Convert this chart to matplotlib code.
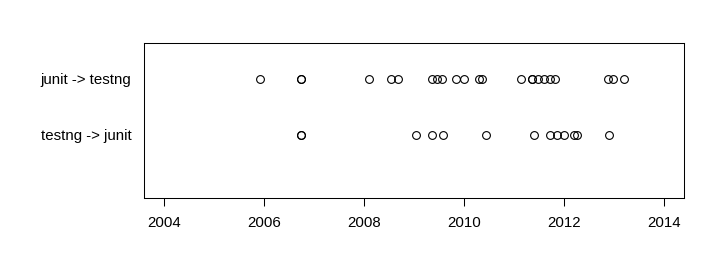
import matplotlib
matplotlib.use('Agg')
import matplotlib.pyplot as plt

plt.rcParams['font.family'] = ['Liberation Sans', 'DejaVu Sans']

# ==============================================================================
# Data
# ==============================================================================
groups = ['testng -> junit', 'junit -> testng']

testng_to_junit = [2006.74, 2006.74, 2009.03, 2009.35, 2009.57, 2010.43,
                   2011.39, 2011.71, 2011.85, 2011.99, 2012.20, 2012.25,
                   2012.89]

junit_to_testng = [2005.92, 2006.74, 2006.74, 2008.10, 2008.53, 2008.68,
                   2009.35, 2009.45, 2009.56, 2009.84, 2009.99, 2010.30,
                   2010.35, 2011.13, 2011.36, 2011.36, 2011.48, 2011.60,
                   2011.72, 2011.82, 2012.87, 2012.97, 2013.19]

xticks = [2004, 2006, 2008, 2010, 2012, 2014]

# ==============================================================================
# Plot
# ==============================================================================
fig = plt.figure(figsize=(7.2, 2.7), dpi=100)
ax = fig.add_axes([0.2, 0.2667, 0.75, 0.574])

for i, vals in enumerate([testng_to_junit, junit_to_testng]):
    ax.plot(vals, [i + 1] * len(vals), linestyle='none', marker='o',
            markersize=5.6, markerfacecolor='none', markeredgecolor='black',
            markeredgewidth=0.8)

ax.set_xlim(2003.6, 2014.4)
ax.set_ylim(-0.125, 2.64)

ax.set_yticks([1, 2])
ax.set_yticklabels(groups, fontsize=10.8)
ax.tick_params(axis='y', length=0, pad=9)

ax.set_xticks(xticks)
ax.set_xticklabels([str(t) for t in xticks], fontsize=10.8)
ax.tick_params(axis='x', length=6, width=0.75, pad=7)

for s in ax.spines.values():
    s.set_linewidth(0.75)

fig.savefig('out.png', dpi=100)
